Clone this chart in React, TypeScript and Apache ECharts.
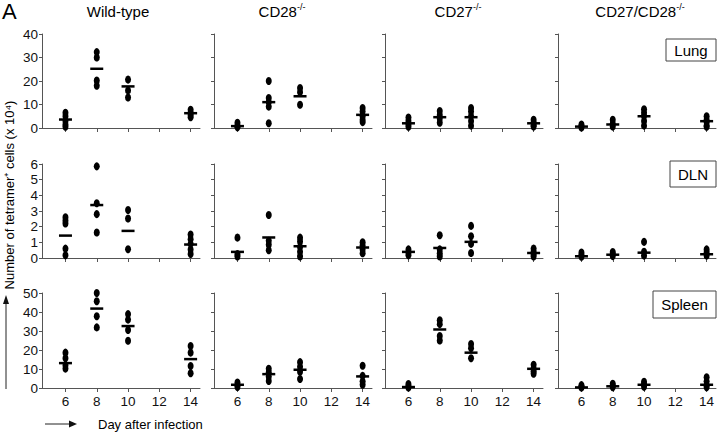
import React, { useEffect, useRef } from "react";
import * as echarts from "echarts";

// ---------- data ----------
const days = [6, 8, 10, 14];
const xTicks = [6, 8, 10, 12, 14];
const strains = ["Wild-type", "CD28", "CD27", "CD27/CD28"];
const organs = ["Lung", "DLN", "Spleen"];
const yMax = [40, 6, 50];
const yInterval = [10, 1, 10];

// Lung: points per day [d6, d8, d10, d14]
const lungWT = [[6.5, 5, 3, 1.5, 0.5], [32.3, 30, 20.2, 18], [20.6, 16, 13], [7.8, 6.5, 5.5, 4.6]];
const lungCD28 = [[2.2, 1, 0.3], [20, 12.8, 11, 9.1, 2], [17, 15.2, 9.9], [8.5, 7, 5, 3.5, 2.5]];
const lungCD27 = [[4.5, 3, 1.5, 0.5], [7.2, 5.5, 4, 2.2], [8.5, 7, 5, 3, 1], [3.5, 2.2, 1.2, 0.6]];
const lungDKO = [[1.5, 0.8, 0.2], [3.5, 1.8, 0.6], [8, 6.5, 5, 3, 1], [5, 3.5, 2.5, 1, 0.5]];
const lungMeans = [[3.6, 25.2, 17.7, 6.3], [0.8, 11, 13.5, 5.6], [2.0, 4.6, 4.6, 2.0], [0.6, 1.5, 5.0, 2.9]];

// DLN
const dlnWT = [[2.6, 2.4, 2.2, 0.6, 0.17], [5.85, 3.5, 2.8, 1.63], [3.06, 2.52, 0.56], [1.5, 1.2, 0.9, 0.55, 0.25]];
const dlnCD28 = [[1.3, 0.25, 0.1], [2.74, 1.1, 0.85, 0.5], [1.3, 1.05, 0.7, 0.4, 0.1], [1.0, 0.8, 0.55, 0.3]];
const dlnCD27 = [[0.55, 0.35, 0.17], [1.45, 0.55, 0.3, 0.1], [2.05, 1.39, 0.9, 0.32], [0.6, 0.4, 0.25, 0.1]];
const dlnDKO = [[0.35, 0.2, 0.08], [0.38, 0.25, 0.12], [1.03, 0.4, 0.15], [0.55, 0.35, 0.15]];
const dlnMeans = [[1.43, 3.38, 1.73, 0.86], [0.39, 1.31, 0.75, 0.67], [0.39, 0.64, 1.03, 0.32], [0.11, 0.21, 0.34, 0.24]];

// Spleen
const spleenWT = [[18.6, 15.7, 12, 10.2], [50, 45.7, 37.8, 31.9], [38.9, 36, 30.5, 24.9], [22.1, 18.6, 11.6, 7.8]];
const spleenCD28 = [[2.9, 1.5, 0.5], [10.1, 8.3, 6, 3.7], [13.6, 11.2, 8.5, 4.7], [11.7, 6.4, 3.5, 1.7]];
const spleenCD27 = [[2.1, 1, 0.2], [35.7, 33.6, 27.4, 25], [23.2, 20.9, 15.7], [12.2, 10.2, 8.8, 7.5]];
const spleenDKO = [[1.5, 0.7, 0.2], [2.2, 1.2, 0.4], [3.3, 2, 0.6], [5.7, 3.5, 1.5, 0.4]];
const spleenMeans = [[13.1, 41.8, 32.6, 15.2], [1.7, 7.3, 9.6, 6.1], [0.5, 30.8, 18.6, 10.1], [0.3, 0.9, 1.7, 1.7]];

const points = [
  [lungWT, lungCD28, lungCD27, lungDKO],
  [dlnWT, dlnCD28, dlnCD27, dlnDKO],
  [spleenWT, spleenCD28, spleenCD27, spleenDKO],
];
const means = [lungMeans, dlnMeans, spleenMeans];

// ---------- layout ----------
const gridLefts = [42, 214, 385, 558];
const gridWidth = 158;
const gridTops = [34, 164, 293];
const gridHeights = [94, 94, 95];
const titleX = [118, 282, 458, 640];

const FONT = "'Liberation Sans', Arial, Helvetica, sans-serif";
const AXIS_COLOR = "#555";

export default function App() {
  const ref = useRef<HTMLDivElement>(null);

  useEffect(() => {
    if (!ref.current) return;
    const chart = echarts.init(ref.current, null, { renderer: "svg" });

    const grid: any[] = [];
    const xAxis: any[] = [];
    const yAxis: any[] = [];
    const series: any[] = [];

    for (let r = 0; r < 3; r++) {
      for (let c = 0; c < 4; c++) {
        const idx = r * 4 + c;
        grid.push({ left: gridLefts[c], top: gridTops[r], width: gridWidth, height: gridHeights[r] });
        xAxis.push({
          type: "value",
          gridIndex: idx,
          min: 4.5,
          max: 14.6,
          axisLine: { show: true, lineStyle: { color: AXIS_COLOR, width: 1 } },
          axisTick: { show: true, length: 4, customValues: xTicks, lineStyle: { color: AXIS_COLOR } },
          axisLabel: {
            show: r === 2,
            customValues: xTicks,
            color: "#111",
            fontSize: 13.5,
            fontFamily: FONT,
            margin: 6,
          },
          splitLine: { show: false },
        });
        yAxis.push({
          type: "value",
          gridIndex: idx,
          min: 0,
          max: yMax[r],
          interval: yInterval[r],
          axisLine: { show: true, lineStyle: { color: AXIS_COLOR, width: 1 } },
          axisTick: { show: true, length: 3, lineStyle: { color: AXIS_COLOR } },
          axisLabel: {
            show: c === 0,
            color: "#111",
            fontSize: 13.5,
            fontFamily: FONT,
            margin: 4,
          },
          splitLine: { show: false },
        });
        const pts: number[][] = [];
        points[r][c].forEach((vals, di) => {
          vals.forEach((v) => pts.push([days[di], v]));
        });
        series.push({
          type: "scatter",
          xAxisIndex: idx,
          yAxisIndex: idx,
          data: pts,
          symbol: "circle",
          symbolSize: [6, 8],
          itemStyle: { color: "#000", opacity: 1 },
          silent: true,
          z: 3,
        });
        series.push({
          type: "scatter",
          xAxisIndex: idx,
          yAxisIndex: idx,
          data: means[r][c].map((m, di) => [days[di], m]),
          symbol: "rect",
          symbolSize: [13, 2.5],
          itemStyle: { color: "#000", opacity: 1 },
          silent: true,
          z: 4,
        });
      }
    }

    const graphic: any[] = [];
    graphic.push({
      type: "text",
      left: 2,
      top: 0,
      style: { text: "A", fontSize: 22, fontFamily: FONT, fill: "#000" },
    });
    strains.forEach((s, c) => {
      const text = c === 0 ? s : `${s}{sup|-/-}`;
      graphic.push({
        type: "text",
        x: titleX[c],
        y: 11,
        style: {
          text,
          fontSize: 15,
          fontFamily: FONT,
          fill: "#000",
          align: "center",
          verticalAlign: "middle",
          rich: {
            sup: { fontSize: 9, fontFamily: FONT, fill: "#000", verticalAlign: "top", padding: [0, 0, 8, 0] },
          },
        },
      });
    });
    // y axis title
    graphic.push({
      type: "text",
      x: 9,
      y: 195,
      rotation: Math.PI / 2,
      style: {
        text: "Number of tetramer\u207A cells (x 10\u2074)",
        fontSize: 13,
        fontFamily: FONT,
        fill: "#000",
        align: "center",
        verticalAlign: "middle",
      },
    });
    // organ boxes
    const boxes = [
      { label: "Lung", x: 666, y: 39, w: 50, h: 22 },
      { label: "DLN", x: 670, y: 161, w: 46, h: 26 },
      { label: "Spleen", x: 653, y: 291, w: 63, h: 27 },
    ];
    boxes.forEach((b) => {
      graphic.push({
        type: "rect",
        shape: { x: b.x, y: b.y, width: b.w, height: b.h },
        style: { fill: "#fff", stroke: "#444", lineWidth: 1 },
      });
      graphic.push({
        type: "text",
        x: b.x + b.w / 2,
        y: b.y + b.h / 2,
        style: {
          text: b.label,
          fontSize: 15,
          fontFamily: FONT,
          fill: "#000",
          align: "center",
          verticalAlign: "middle",
        },
      });
    });
    // arrows
    graphic.push({
      type: "line",
      shape: { x1: 6, y1: 389, x2: 6, y2: 302 },
      style: { stroke: "#222", lineWidth: 1 },
    });
    graphic.push({
      type: "polygon",
      shape: { points: [[6, 295], [3, 304], [9, 304]] },
      style: { fill: "#111" },
    });
    graphic.push({
      type: "line",
      shape: { x1: 45, y1: 424, x2: 70, y2: 424 },
      style: { stroke: "#222", lineWidth: 1 },
    });
    graphic.push({
      type: "polygon",
      shape: { points: [[77, 424], [69, 420.5], [69, 427.5]] },
      style: { fill: "#111" },
    });
    graphic.push({
      type: "text",
      x: 98,
      y: 424,
      style: {
        text: "Day after infection",
        fontSize: 13,
        fontFamily: FONT,
        fill: "#000",
        verticalAlign: "middle",
      },
    });

    chart.setOption({
      animation: false,
      backgroundColor: "#fff",
      grid,
      xAxis,
      yAxis,
      series,
      graphic,
    });

    return () => chart.dispose();
  }, []);

  return <div ref={ref} style={{ width: 720, height: 433, position: "absolute", left: 0, top: 0 }} />;
}
